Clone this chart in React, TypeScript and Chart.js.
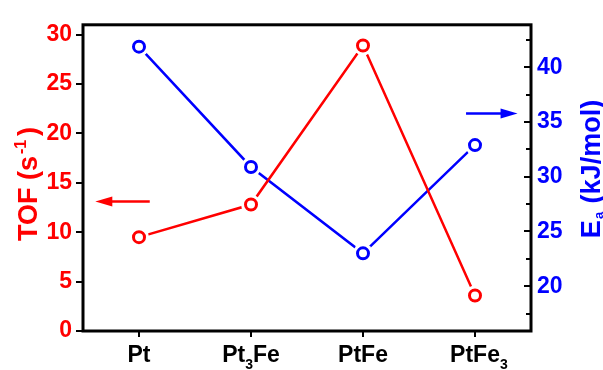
import React, { useEffect, useRef } from "react";
import { Chart, registerables } from "chart.js";

Chart.register(...registerables);

// ---- data ----
const categories = ["Pt", "Pt_3Fe", "PtFe", "PtFe_3"];
const tofValues = [9.5, 12.8, 28.9, 3.6];
const eaValues = [41.9, 30.9, 23.0, 32.9];
const tofTicks = [0, 2.5, 5, 7.5, 10, 12.5, 15, 17.5, 20, 22.5, 25, 27.5, 30];
const eaTicks = [17.5, 20, 22.5, 25, 27.5, 30, 32.5, 35, 37.5, 40, 42.5];
const tofRange = [0, 31];
const eaRange = [15.9, 43.9];

const RED = "#ff0000";
const BLUE = "#0000ff";
const FAMILY = "'Liberation Sans', Arial, Helvetica, sans-serif";

type Seg = { text: string; size: number; dy: number; gap?: number };

function runWidth(ctx: CanvasRenderingContext2D, segs: Seg[]) {
  let w = 0;
  for (const s of segs) {
    ctx.font = `bold ${s.size}px ${FAMILY}`;
    w += (s.gap || 0) + ctx.measureText(s.text).width;
  }
  return w;
}

function drawRun(ctx: CanvasRenderingContext2D, segs: Seg[], startX: number, baseY: number) {
  let x = startX;
  ctx.textAlign = "left";
  ctx.textBaseline = "alphabetic";
  for (const s of segs) {
    ctx.font = `bold ${s.size}px ${FAMILY}`;
    x += s.gap || 0;
    ctx.fillText(s.text, x, baseY + s.dy);
    x += ctx.measureText(s.text).width;
  }
}

function drawArrow(ctx: CanvasRenderingContext2D, tail: number, tip: number, y: number, color: string) {
  const dir = Math.sign(tip - tail);
  const headLen = 17;
  const half = 5;
  ctx.strokeStyle = color;
  ctx.fillStyle = color;
  ctx.lineWidth = 2.5;
  ctx.beginPath();
  ctx.moveTo(tail, y);
  ctx.lineTo(tip - dir * headLen * 0.8, y);
  ctx.stroke();
  ctx.beginPath();
  ctx.moveTo(tip, y);
  ctx.lineTo(tip - dir * headLen, y - half);
  ctx.lineTo(tip - dir * headLen, y + half);
  ctx.closePath();
  ctx.fill();
}

const decorPlugin = {
  id: "decor",
  afterDraw(chart: any) {
    const { ctx, chartArea: a, scales } = chart;
    const xs = scales.x;
    const ys = scales.y;
    const y1 = scales.y1;
    ctx.save();

    // tick marks
    ctx.strokeStyle = "#000";
    ctx.lineWidth = 2;
    ctx.beginPath();
    for (const t of ys.ticks) {
      const py = Math.round(ys.getPixelForValue(t.value));
      const len = t.value % 5 === 0 ? 7 : 4;
      ctx.moveTo(a.left - len, py);
      ctx.lineTo(a.left, py);
    }
    for (const t of y1.ticks) {
      const py = Math.round(y1.getPixelForValue(t.value));
      const len = t.value % 5 === 0 ? 7 : 5;
      ctx.moveTo(a.right - len, py);
      ctx.lineTo(a.right, py);
    }
    for (let i = 0; i < categories.length; i++) {
      const px = Math.round(xs.getPixelForValue(i));
      ctx.moveTo(px, a.bottom);
      ctx.lineTo(px, a.bottom + 6);
    }
    ctx.stroke();

    // frame
    ctx.lineWidth = 3;
    ctx.strokeRect(a.left, a.top, a.right - a.left, a.bottom - a.top);

    // x labels with subscripts
    ctx.fillStyle = "#000";
    categories.forEach((lab, i) => {
      const parts = lab.split(/_(\d)/);
      const segs: Seg[] = [];
      parts.forEach((p, k) => {
        if (!p) return;
        if (k % 2 === 1) segs.push({ text: p, size: 14, dy: 7 });
        else segs.push({ text: p, size: 23, dy: 0 });
      });
      const main = segs.length && segs[segs.length - 1].size === 14 ? segs.slice(0, -1) : segs;
      const w = runWidth(ctx, main);
      const cx = xs.getPixelForValue(i);
      drawRun(ctx, segs, cx - w / 2, 362);
    });

    // left title
    ctx.fillStyle = RED;
    {
      const segs: Seg[] = [
        { text: "TOF (s", size: 27, dy: 0 },
        { text: "-1", size: 16, dy: -11, gap: 2 },
        { text: ")", size: 27, dy: 0, gap: 4 },
      ];
      const w = runWidth(ctx, segs);
      ctx.save();
      ctx.translate(37, 184);
      ctx.rotate(-Math.PI / 2);
      drawRun(ctx, segs, -w / 2, 0);
      ctx.restore();
    }

    // right title
    ctx.fillStyle = BLUE;
    {
      const segs: Seg[] = [
        { text: "E", size: 27, dy: 0 },
        { text: "a", size: 13, dy: 3, gap: 1 },
        { text: " (kJ/mol)", size: 27, dy: 0, gap: 1 },
      ];
      const w = runWidth(ctx, segs);
      ctx.save();
      ctx.translate(600, 169);
      ctx.rotate(-Math.PI / 2);
      drawRun(ctx, segs, -w / 2, 0);
      ctx.restore();
    }

    // arrows
    drawArrow(ctx, xs.getPixelForValue(0.096), xs.getPixelForValue(-0.39), ys.getPixelForValue(13.1), RED);
    drawArrow(ctx, xs.getPixelForValue(2.92), xs.getPixelForValue(3.38), y1.getPixelForValue(35.8), BLUE);

    ctx.restore();
  },
};

export default function App() {
  const ref = useRef<HTMLCanvasElement | null>(null);

  useEffect(() => {
    if (!ref.current) return;
    const mk = (values: number[], axis: string, color: string, kind: string, order: number) => {
      const base: any = {
        data: values,
        yAxisID: axis,
        borderColor: color,
        order,
      };
      if (kind === "line") {
        return { ...base, borderWidth: 2.5, pointRadius: 0, showLine: true, fill: false, tension: 0 };
      }
      if (kind === "halo") {
        return {
          ...base,
          showLine: false,
          pointRadius: 10,
          pointBorderWidth: 0,
          pointBackgroundColor: "#ffffff",
          pointBorderColor: "#ffffff",
        };
      }
      return {
        ...base,
        showLine: false,
        pointRadius: 5.5,
        pointBorderWidth: 3,
        pointBackgroundColor: "#ffffff",
        pointBorderColor: color,
      };
    };

    const chart = new Chart(ref.current, {
      type: "line",
      data: {
        labels: categories,
        datasets: [
          mk(tofValues, "y", RED, "marker", 1),
          mk(eaValues, "y1", BLUE, "marker", 1),
          mk(tofValues, "y", RED, "halo", 3),
          mk(eaValues, "y1", BLUE, "halo", 3),
          mk(tofValues, "y", RED, "line", 5),
          mk(eaValues, "y1", BLUE, "line", 5),
        ],
      },
      options: {
        animation: false,
        responsive: false,
        events: [],
        layout: { padding: { top: 17, left: 0, right: 0, bottom: 0 } },
        plugins: { legend: { display: false }, tooltip: { enabled: false } },
        scales: {
          x: {
            type: "category",
            offset: true,
            grid: { display: false, drawTicks: false },
            border: { display: false },
            ticks: { display: false },
            afterFit: (s: any) => {
              s.height = 39;
            },
          },
          y: {
            position: "left",
            min: tofRange[0],
            max: tofRange[1],
            grid: { display: false, drawTicks: false },
            border: { display: false },
            afterBuildTicks: (s: any) => {
              s.ticks = tofTicks.map((v) => ({ value: v }));
            },
            ticks: {
              color: RED,
              padding: 11,
              font: { family: FAMILY, size: 23, weight: "bold" },
              callback: (v: any) => (Number(v) % 5 === 0 ? String(v) : ""),
            },
            afterFit: (s: any) => {
              s.width = 83;
            },
          },
          y1: {
            position: "right",
            min: eaRange[0],
            max: eaRange[1],
            grid: { display: false, drawTicks: false },
            border: { display: false },
            afterBuildTicks: (s: any) => {
              s.ticks = eaTicks.map((v) => ({ value: v }));
            },
            ticks: {
              color: BLUE,
              padding: 6,
              font: { family: FAMILY, size: 23, weight: "bold" },
              callback: (v: any) => (Number(v) % 5 === 0 ? String(v) : ""),
            },
            afterFit: (s: any) => {
              s.width = 72;
            },
          },
        },
      } as any,
      plugins: [decorPlugin],
    });
    return () => chart.destroy();
  }, []);

  return (
    <div style={{ position: "fixed", left: 0, top: 0, width: 603, height: 370, background: "#fff" }}>
      <canvas ref={ref} width={603} height={370} style={{ display: "block" }} />
    </div>
  );
}
